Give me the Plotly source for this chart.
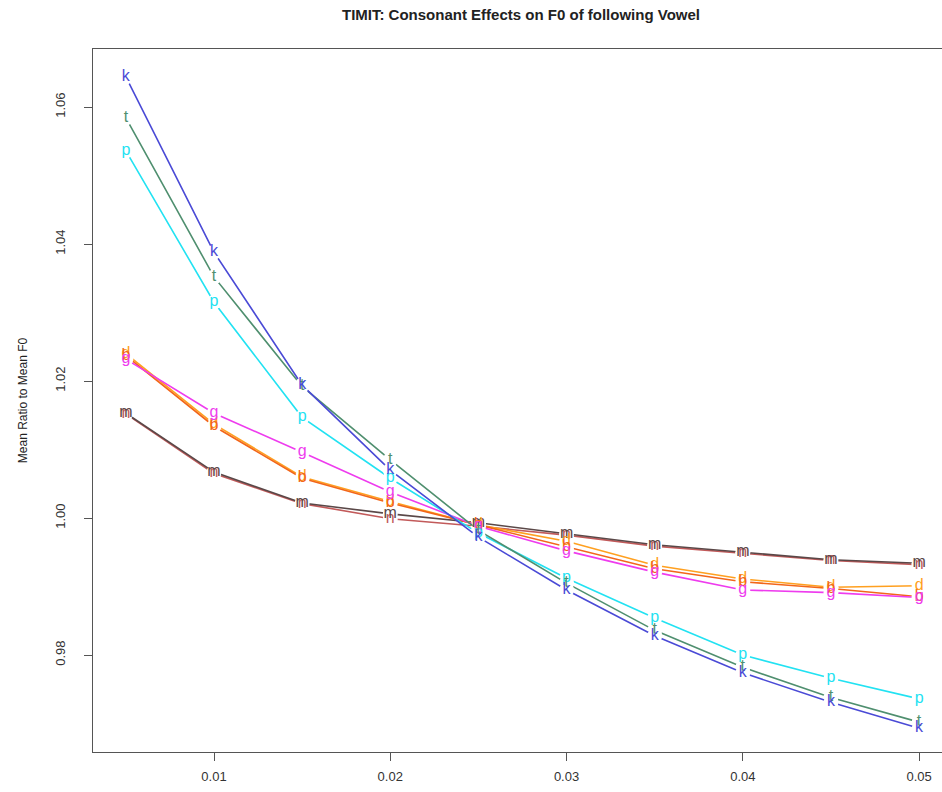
import plotly.graph_objects as go

x_vals = [0.005, 0.01, 0.015, 0.02, 0.025, 0.03, 0.035, 0.04, 0.045, 0.05]

series_names = ["n", "m", "d", "b", "g", "p", "t", "k"]
n_vals = [1.0152, 1.0065, 1.0021, 0.9999, 0.9988, 0.9975, 0.9959, 0.9949, 0.9938, 0.9932]
m_vals = [1.0153, 1.0067, 1.0022, 1.0006, 0.9993, 0.9977, 0.9961, 0.9950, 0.9939, 0.9934]
d_vals = [1.0240, 1.0137, 1.0060, 1.0024, 0.9990, 0.9966, 0.9931, 0.9911, 0.9899, 0.9901]
b_vals = [1.0237, 1.0134, 1.0058, 1.0022, 0.9990, 0.9958, 0.9926, 0.9907, 0.9897, 0.9885]
g_vals = [1.0232, 1.0153, 1.0096, 1.0038, 0.9988, 0.9952, 0.9921, 0.9895, 0.9891, 0.9884]
p_vals = [1.0536, 1.0315, 1.0147, 1.0058, 0.9978, 0.9912, 0.9854, 0.9800, 0.9766, 0.9736]
t_vals = [1.0584, 1.0352, 1.0192, 1.0085, 0.9982, 0.9905, 0.9836, 0.9782, 0.9738, 0.9702]
k_vals = [1.0644, 1.0388, 1.0194, 1.0070, 0.9972, 0.9895, 0.9828, 0.9774, 0.9731, 0.9693]

series_values = [n_vals, m_vals, d_vals, b_vals, g_vals, p_vals, t_vals, k_vals]
series_colors = ["#c25a5a", "#5a4848", "#ffa020", "#f2661a", "#ee3cee", "#22e2f2", "#4f8f6f", "#4a4ad6"]

x_ticks = [0.01, 0.02, 0.03, 0.04, 0.05]
x_tick_labels = ["0.01", "0.02", "0.03", "0.04", "0.05"]
y_ticks = [0.98, 1.00, 1.02, 1.04, 1.06]
y_tick_labels = ["0.98", "1.00", "1.02", "1.04", "1.06"]

FONT = "Liberation Sans, Arial, sans-serif"

fig = go.Figure()

# lines with white markers to create the R type="b" gaps
for name, vals, col in zip(series_names, series_values, series_colors):
    fig.add_trace(go.Scatter(
        x=x_vals, y=vals, mode="lines+markers", name=name,
        line=dict(color=col, width=1.6),
        marker=dict(color="white", size=15, line=dict(width=0)),
        showlegend=False, hoverinfo="skip", cliponaxis=False,
    ))

# letters on top
for name, vals, col in zip(series_names, series_values, series_colors):
    fig.add_trace(go.Scatter(
        x=x_vals, y=vals, mode="text", name=name,
        text=[name] * len(x_vals), textposition="middle center",
        textfont=dict(family=FONT, size=16, color=col),
        showlegend=False, cliponaxis=False,
    ))

fig.update_layout(
    width=942, height=792,
    paper_bgcolor="white", plot_bgcolor="white",
    margin=dict(l=93, r=0, t=49, b=40),
    title=dict(
        text="<b>TIMIT: Consonant Effects on F0 of following Vowel</b>",
        x=521 / 942, xref="container", xanchor="center", y=1 - 15 / 792, yanchor="middle",
        font=dict(family=FONT, size=15, color="#222222"),
    ),
    xaxis=dict(
        range=[0.003135, 0.0513], tickvals=x_ticks, ticktext=x_tick_labels,
        showgrid=False, zeroline=False,
        showline=True, linecolor="#555555", linewidth=1.2, mirror=True,
        ticks="outside", ticklen=8, tickcolor="#555555", tickwidth=1,
        ticklabelstandoff=4,
        tickfont=dict(family=FONT, size=13, color="#333333"),
    ),
    yaxis=dict(
        range=[0.96584, 1.06847], tickvals=y_ticks, ticktext=y_tick_labels,
        showgrid=False, zeroline=False,
        showline=True, linecolor="#555555", linewidth=1.2,
        ticks="outside", ticklen=8, tickcolor="#555555", tickwidth=1,
        tickangle=-90, ticklabelstandoff=14,
        tickfont=dict(family=FONT, size=13, color="#333333"),
        title=dict(text="Mean Ratio to Mean F0", standoff=22,
                   font=dict(family=FONT, size=12, color="#222222")),
    ),
)

fig.write_html(
    "out.html",
    config={"displayModeBar": False},
    post_script="document.body.style.margin='0';document.body.style.overflow='hidden';",
)
